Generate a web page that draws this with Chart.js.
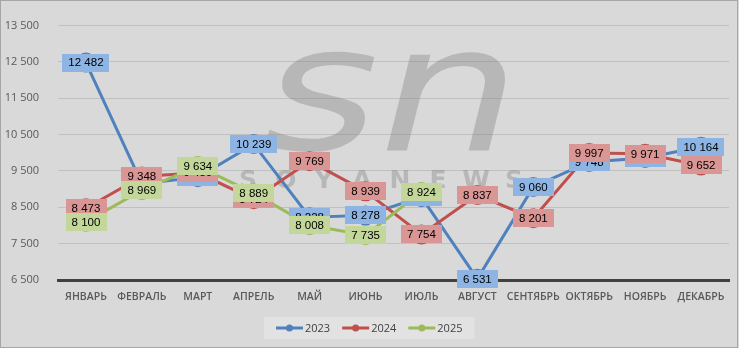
<!DOCTYPE html>
<html>
<head>
<meta charset="utf-8">
<script src="https://cdn.jsdelivr.net/npm/chart.js@4/dist/chart.umd.min.js"></script>
<style>
  html, body { margin: 0; padding: 0; background: #d9d9d9; }
  canvas { display: block; }
</style>
</head>
<body>
<canvas id="sales" width="739" height="348"></canvas>
<script>
"use strict";

// monthly values, three years
const months = ['ЯНВАРЬ', 'ФЕВРАЛЬ', 'МАРТ', 'АПРЕЛЬ', 'МАЙ', 'ИЮНЬ', 'ИЮЛЬ', 'АВГУСТ', 'СЕНТЯБРЬ', 'ОКТЯБРЬ', 'НОЯБРЬ', 'ДЕКАБРЬ'];
const years = ['2023', '2024', '2025'];
const values2023 = [12482, 9150, 9328, 10239, 8228, 8278, 8780, 6531, 9060, 9748, 9860, 10164];
const values2024 = [8473, 9348, 9450, 8724, 9769, 8939, 7754, 8837, 8201, 9997, 9971, 9652];
const values2025 = [8100, 8969, 9634, 8889, 8008, 7735, 8924, null, null, null, null, null];

const yMin = 6500;
const yMax = 13500;
const yStep = 1000;

const lineColors = ['#4f81bd', '#c0504d', '#9bbb59'];
const boxColors = ['#8db4e2', '#da9694', '#c4d79b'];

function fmt(v) {
  return String(v).replace(/\B(?=(\d{3})+(?!\d))/g, ' ');
}

function makeSet(i, data) {
  return {
    label: years[i],
    data: data,
    borderColor: lineColors[i],
    backgroundColor: lineColors[i],
    pointBackgroundColor: lineColors[i],
    pointBorderColor: lineColors[i],
    borderWidth: 3,
    pointRadius: 10,
    pointBorderWidth: 0,
    pointHoverRadius: 10,
    tension: 0,
    order: 2 - i,
    boxColor: boxColors[i]
  };
}

// the watermark is painted opaque on its own canvas, then laid down translucent
function watermark(width, height) {
  const c = document.createElement('canvas');
  c.width = width;
  c.height = height;
  const g = c.getContext('2d');
  g.fillStyle = '#7d7d7d';

  g.save();
  g.font = 'italic 175px "DejaVu Sans"';
  const w = g.measureText('sn').width;
  g.translate(263, 150);
  g.scale(257 / w, 1);
  g.fillText('sn', 0, 0);
  g.restore();

  g.font = 'bold 25px "DejaVu Sans"';
  g.textAlign = 'center';
  g.textBaseline = 'middle';
  'SOYANEWS'.split('').forEach((ch, i) => g.fillText(ch, 248 + i * 38, 181));
  return c;
}

// background, border and the big gray watermark under the lines
const backdrop = {
  id: 'backdrop',
  beforeDraw(chart) {
    const ctx = chart.ctx;
    ctx.save();
    ctx.fillStyle = '#d9d9d9';
    ctx.fillRect(0, 0, chart.width, chart.height);
    ctx.restore();
  },
  beforeDatasetsDraw(chart) {
    const ctx = chart.ctx;
    ctx.save();
    ctx.globalAlpha = 0.36;
    ctx.drawImage(watermark(chart.width, chart.height), 0, 0);
    ctx.restore();
  },
  afterDraw(chart) {
    const ctx = chart.ctx;
    ctx.save();
    ctx.strokeStyle = '#a6a6a6';
    ctx.lineWidth = 1;
    ctx.strokeRect(0.5, 0.5, chart.width - 2, chart.height - 1);
    ctx.restore();
  }
};

// value boxes centred on every point
const valueBoxes = {
  id: 'valueBoxes',
  afterDatasetsDraw(chart) {
    const ctx = chart.ctx;
    ctx.save();
    ctx.font = '11.5px "Liberation Sans"';
    ctx.textAlign = 'center';
    ctx.textBaseline = 'middle';
    chart.data.datasets.forEach((ds, di) => {
      const meta = chart.getDatasetMeta(di);
      meta.data.forEach((pt, i) => {
        const v = ds.data[i];
        if (v == null) return;
        const text = fmt(v);
        const w = ctx.measureText(text).width + 12;
        const h = 18;
        ctx.fillStyle = ds.boxColor;
        ctx.fillRect(Math.round(pt.x - w / 2), Math.round(pt.y - h / 2), Math.round(w), h);
        ctx.fillStyle = '#000000';
        ctx.fillText(text, pt.x, pt.y + 0.5);
      });
    });
    ctx.restore();
  }
};

// legend strip at the bottom: line with a dot, then the year
const bottomLegend = {
  id: 'bottomLegend',
  afterDraw(chart) {
    const ctx = chart.ctx;
    const sets = chart.data.datasets;
    ctx.save();
    ctx.font = '11px "Open Sans"';
    ctx.textBaseline = 'middle';
    const sample = 27, gap = 2, spacing = 12, pad = 12;
    const widths = sets.map(ds => sample + gap + ctx.measureText(ds.label).width);
    const total = widths.reduce((a, b) => a + b, 0) + spacing * (sets.length - 1) + pad * 2;
    const left = Math.round((chart.width - total) / 2);
    const top = 317, h = 22, cy = top + h / 2;
    ctx.fillStyle = '#e2e2e2';
    ctx.fillRect(left, top, total, h);
    let x = left + pad;
    sets.forEach((ds, i) => {
      ctx.strokeStyle = ds.borderColor;
      ctx.lineWidth = 3;
      ctx.beginPath();
      ctx.moveTo(x, cy);
      ctx.lineTo(x + sample, cy);
      ctx.stroke();
      ctx.fillStyle = ds.borderColor;
      ctx.beginPath();
      ctx.arc(x + sample / 2, cy, 3.5, 0, Math.PI * 2);
      ctx.fill();
      ctx.fillStyle = '#404040';
      ctx.fillText(ds.label, x + sample + gap, cy + 0.5);
      x += widths[i] + spacing;
    });
    ctx.restore();
  }
};

const chart = new Chart(document.getElementById('sales').getContext('2d'), {
  type: 'line',
  data: {
    labels: months,
    datasets: [makeSet(0, values2023), makeSet(1, values2024), makeSet(2, values2025)]
  },
  options: {
    responsive: false,
    animation: false,
    devicePixelRatio: 1,
    layout: { padding: { top: 15, right: 2, left: 0, bottom: 0 } },
    plugins: {
      legend: { display: false },
      tooltip: { enabled: false }
    },
    scales: {
      x: {
        offset: true,
        grid: { display: false, drawTicks: false },
        border: { display: true, color: '#404040', width: 3 },
        ticks: {
          color: '#595959',
          font: { family: 'Open Sans', size: 10.5, weight: '600' },
          padding: 11,
          maxRotation: 0,
          autoSkip: false
        },
        afterFit(scale) { scale.height = 68; }
      },
      y: {
        min: yMin,
        max: yMax,
        grid: { color: '#c0c0c0', lineWidth: 1, drawTicks: false },
        border: { display: false },
        ticks: {
          stepSize: yStep,
          color: '#595959',
          font: { family: 'Open Sans', size: 11 },
          padding: 19,
          callback: v => fmt(v)
        },
        afterFit(scale) { scale.width = 58; }
      }
    }
  },
  plugins: [backdrop, valueBoxes, bottomLegend]
});
</script>
</body>
</html>
